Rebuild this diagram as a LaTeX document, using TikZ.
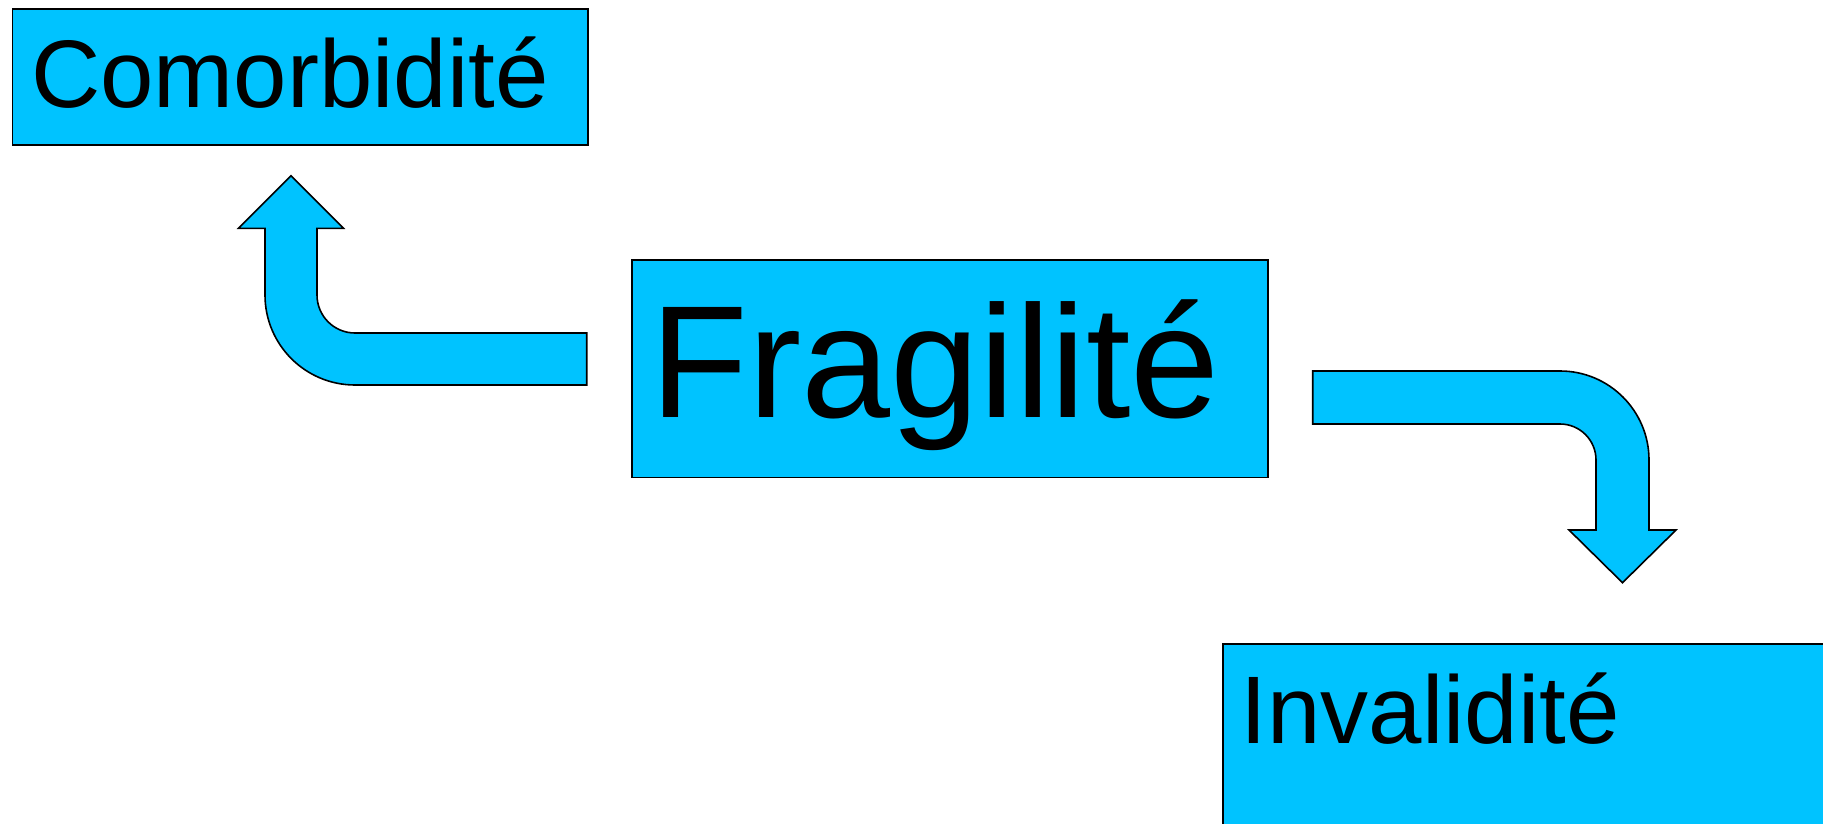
\documentclass[tikz,border=0pt]{standalone}
\usepackage{fontspec}
\setmainfont{Liberation Sans}
\definecolor{boxcyan}{RGB}{0,195,255}
\begin{document}
\begin{tikzpicture}[x=1pt,y=-1pt,
  box/.style={draw=black, line width=1.6pt, fill=boxcyan, inner sep=0pt, anchor=north west},
  bendarrow/.style={draw=black, line width=1.6pt, fill=boxcyan, line join=miter},
  lbl/.style={inner sep=0pt, anchor=base west, text=black}]
\useasboundingbox (0,0) rectangle (1823,824);
\clip (0,0) rectangle (1823,824);
\fill[white] (0,0) rectangle (1823,824);
% boxes
\node[box, minimum width=575.4pt, minimum height=136.1pt] (com) at (11.6,8.1) {};
\node[lbl, font=\fontsize{96}{110}\selectfont] (comtext) at (30.9,107.3) {Comorbidité};
\node[box, minimum width=635.9pt, minimum height=217.4pt] (fra) at (631.3,259.3) {};
\node[lbl, font=\fontsize{160}{180}\selectfont] (fratext) at (650.7,417.6) {Fragilité};
\node[box, minimum width=700pt, minimum height=300pt] (inv) at (1222,643.3) {};
\node[lbl, font=\fontsize{96}{110}\selectfont] (invtext) at (1240.7,743.3) {Invalidité};
% bent arrow up-left
\draw[bendarrow] (586.7,333) -- (355,333) arc[start angle=90, end angle=180, radius=38]
  -- (317,228.3) -- (343.5,228.3) -- (291,175.7) -- (238.5,228.3) -- (265,228.3)
  -- (265,295) arc[start angle=180, end angle=90, radius=90] -- (586.7,385) -- cycle;
% bent arrow right-down
\draw[bendarrow] (1312.7,371) -- (1560,371) arc[start angle=-90, end angle=0, radius=89]
  -- (1649,530) -- (1676,530) -- (1622.5,582.7) -- (1569,530) -- (1596,530)
  -- (1596,460) arc[start angle=0, end angle=-90, radius=36] -- (1312.7,424) -- cycle;
\end{tikzpicture}
\end{document}
